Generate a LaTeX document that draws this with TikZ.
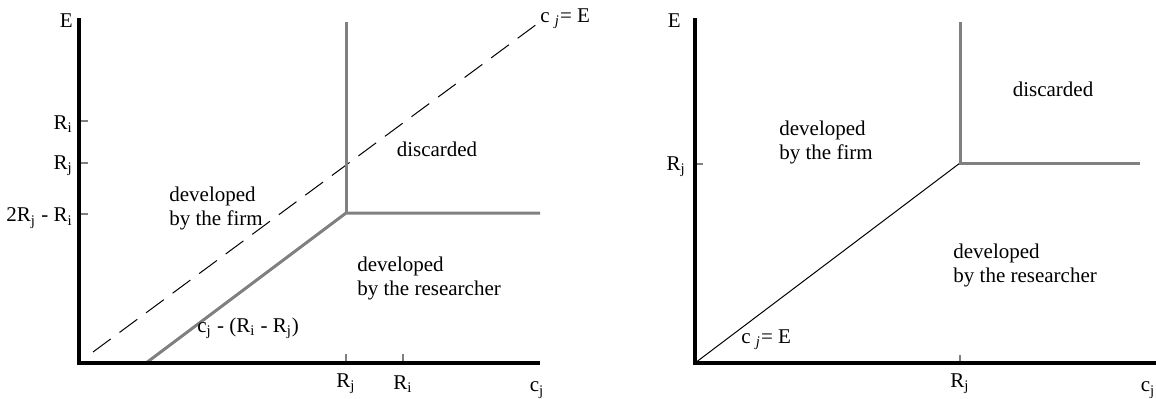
\documentclass[tikz,border=0pt]{standalone}
\usepackage{fontspec}
\setmainfont{Liberation Serif}
\usepackage{xcolor}
\usetikzlibrary{positioning}
\definecolor{bordergray}{HTML}{808080}
\tikzset{
  axis/.style={line width=2pt,line join=miter},
  bound/.style={bordergray,line width=1.5pt},
  tickmark/.style={bordergray,line width=1pt},
  lbl/.style={font=\fontsize{10.5}{12}\selectfont,inner sep=0pt,align=left},
}

\begin{document}
\begin{tikzpicture}[x=0.5pt,y=-0.5pt]
\useasboundingbox (0,0) rectangle (1156,398);
% left panel
\coordinate (lorig) at (79,363);
\coordinate (ltop) at (79,18);
\coordinate (lend) at (540,363);
\coordinate (lfoot) at (146,363);
\coordinate (lkink) at (346,213);
\coordinate (lkinkup) at (346,22);
\coordinate (lkinkright) at (540,213);
\coordinate (ldash0) at (93,352);
\coordinate (ldash1) at (537,24);
\draw[dash pattern=on 11pt off 5.5pt,line width=0.5pt] (ldash0) -- (ldash1);
\draw[bound] (lfoot) -- (lkink) -- (lkinkright);
\draw[bound] (lkink) -- (lkinkup);
\draw[tickmark] (80,121) -- (88,121);
\draw[tickmark] (80,163) -- (88,163);
\draw[tickmark] (80,214) -- (88,214);
\draw[tickmark] (346,362) -- (346,354);
\draw[tickmark] (403,362) -- (403,354);
\draw[axis] (ltop) -- (lorig) -- (lend);
\node[lbl,anchor=east] (lE) at (73,21) {E};
\node[lbl,anchor=east] (lRi) at (73,124) {R\textsubscript{i}};
\node[lbl,anchor=east] (lRj) at (73,166) {R\textsubscript{j}};
\node[lbl,anchor=east] (lRdiff) at (73,218) {2R\textsubscript{j} - R\textsubscript{i}};
\node[lbl] (lxRj) at (346,384) {R\textsubscript{j}};
\node[lbl] (lxRi) at (403,384) {R\textsubscript{i}};
\node[lbl] (lcj) at (537,390) {c\textsubscript{j}};
\node[lbl,anchor=west] (ldiag) at (540,19) {c \textsubscript{\itshape j}= E};
\node[lbl] (ldisc) at (437,149) {discarded};
\node[lbl,anchor=west] (lfirm) at (169,208) {developed\\by the firm};
\node[lbl,anchor=west] (lres) at (357,278) {developed\\by the researcher};
\node[lbl,anchor=west] (lshift) at (197,328) {c\textsubscript{j} - (R\textsubscript{i} - R\textsubscript{j})};
% right panel
\coordinate (rorig) at (695,363);
\coordinate (rtop) at (695,18);
\coordinate (rend) at (1156,363);
\coordinate (rkink) at (960,163);
\coordinate (rkinkup) at (960,22);
\coordinate (rkinkright) at (1140,163);
\draw[line width=0.5pt] (rorig) -- (rkink);
\draw[bound] (rkinkup) -- (rkink) -- (rkinkright);
\draw[tickmark] (696,164) -- (703,164);
\draw[tickmark] (960,362) -- (960,355);
\draw[axis] (rtop) -- (rorig) -- (rend);
\node[lbl,anchor=east] (rE) at (681,21) {E};
\node[lbl,anchor=east] (rRj) at (686,167) {R\textsubscript{j}};
\node[lbl] (rxRj) at (960,384) {R\textsubscript{j}};
\node[lbl] (rcj) at (1148,390) {c\textsubscript{j}};
\node[lbl,anchor=west] (rdiag) at (741,340) {c \textsubscript{\itshape j}= E};
\node[lbl] (rdisc) at (1053,89) {discarded};
\node[lbl,anchor=west] (rfirm) at (779,142) {developed\\by the firm};
\node[lbl,anchor=west] (rres) at (953,265) {developed\\by the researcher};
\end{tikzpicture}
\end{document}
